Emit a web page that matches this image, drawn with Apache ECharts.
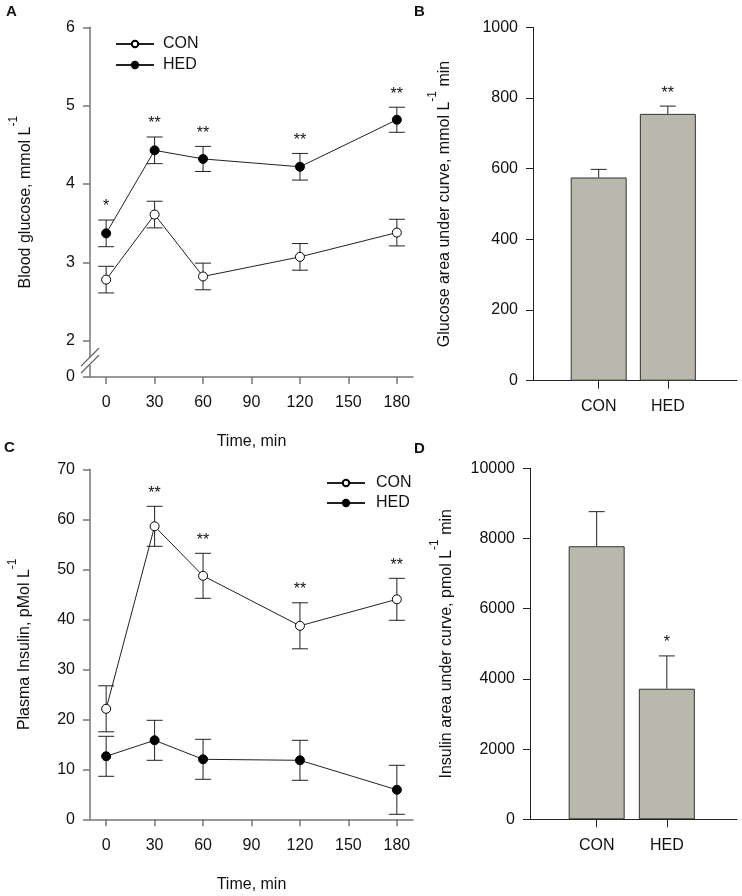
<!DOCTYPE html>
<html>
<head>
<meta charset="utf-8">
<script src="https://cdn.jsdelivr.net/npm/echarts@6/dist/echarts.min.js"></script>
<style>
html, body { margin: 0; padding: 0; background: #fff; }
#main { width: 742px; height: 896px; }
</style>
</head>
<body>
<div id="main"></div>
<script>
// time points and ticks
const times = [0, 30, 60, 120, 180]
const timeTicks = [0, 30, 60, 90, 120, 150, 180]
const groups = ['CON', 'HED']

// A - blood glucose
const glucoseCon = [2.78, 3.61, 2.82, 3.07, 3.38]
const glucoseConSe = [0.17, 0.17, 0.17, 0.17, 0.17]
const glucoseHed = [3.37, 4.43, 4.32, 4.22, 4.82]
const glucoseHedSe = [0.17, 0.17, 0.16, 0.17, 0.16]
const glucoseStars = ['*', '**', '**', '**', '**']
const glucoseTicks = [2, 3, 4, 5, 6]

// B - glucose AUC
const glucoseAuc = [575, 755]
const glucoseAucSe = [23, 22]
const glucoseAucStars = ['', '**']

// C - plasma insulin
const insulinCon = [22.1, 58.6, 48.7, 38.7, 44.0]
const insulinConSe = [4.6, 4.0, 4.5, 4.6, 4.2]
const insulinHed = [12.6, 15.8, 12.0, 11.8, 5.9]
const insulinHedSe = [4.0, 4.0, 4.0, 4.0, 4.9]
const insulinStars = ['', '**', '**', '**', '**']

// D - insulin AUC
const insulinAuc = [7780, 3720]
const insulinAucSe = [985, 935]
const insulinAucStars = ['', '*']

const FONT = '"Liberation Sans", Arial, sans-serif'
const TXT = '#111'
const BREAK_LOW = 1.537 // position drawn as "0" below the axis break
const BREAK_MID = 1.74 // where the // marks sit

const chart = echarts.init(document.getElementById('main'))

function txt(size) {
  return { fontSize: size, fontFamily: FONT, color: TXT }
}

function timeAxis(gridIndex) {
  return {
    type: 'value', gridIndex, min: -10, max: 190,
    name: 'Time, min', nameLocation: 'middle', nameGap: 57,
    nameTextStyle: txt(16),
    axisLine: { show: true, onZero: false, lineStyle: { color: '#777', width: 1.5 } },
    axisTick: { show: true, length: 7, customValues: timeTicks, lineStyle: { color: '#777', width: 1.5 } },
    axisLabel: { customValues: timeTicks, margin: 18, ...txt(16) },
    splitLine: { show: false }
  }
}

function groupAxis(gridIndex) {
  return {
    type: 'value', gridIndex, min: -0.95, max: 2,
    axisLine: { show: true, onZero: false, lineStyle: { color: '#222', width: 1 } },
    axisTick: { show: true, length: 8, customValues: [0, 1], lineStyle: { color: '#222' } },
    axisLabel: { customValues: [0, 1], margin: 18, formatter: v => groups[Math.round(v)], ...txt(16) },
    splitLine: { show: false }
  }
}

function supName(main, tail) {
  return '{m|' + main + '}{s|-1}' + (tail ? '{m|' + tail + '}' : '')
}
const supRich = {
  m: { ...txt(16), lineHeight: 36 },
  s: { ...txt(12), lineHeight: 12, verticalAlign: 'top' }
}

function valueAxis(gridIndex, opt, color) {
  const w = color === '#777' ? 1.5 : 1
  return Object.assign({
    type: 'value', gridIndex, nameLocation: 'middle',
    nameTextStyle: { rich: supRich },
    axisLine: { show: true, onZero: false, lineStyle: { color: color, width: w } },
    axisTick: { show: true, length: 7, lineStyle: { color: color, width: w } },
    axisLabel: { margin: 15, formatter: v => String(v), ...txt(16) },
    splitLine: { show: false }
  }, opt)
}

// error bars (with optional significance stars above the top cap)
function errorBars(xi, xs, ys, se, stars, twoSided) {
  return {
    type: 'custom', xAxisIndex: xi, yAxisIndex: xi, z: 1, silent: true,
    data: xs.map((x, i) => [x, ys[i], se[i]]),
    renderItem: (params, api) => {
      const x = api.value(0), y = api.value(1), e = api.value(2)
      const top = api.coord([x, y + e])
      const bot = api.coord([x, twoSided ? y - e : y])
      const st = { stroke: '#222', lineWidth: 1 }
      const hw = 8
      const children = [
        { type: 'line', shape: { x1: top[0], y1: top[1], x2: bot[0], y2: bot[1] }, style: st },
        { type: 'line', shape: { x1: top[0] - hw, y1: top[1], x2: top[0] + hw, y2: top[1] }, style: st }
      ]
      if (twoSided) {
        children.push({ type: 'line', shape: { x1: bot[0] - hw, y1: bot[1], x2: bot[0] + hw, y2: bot[1] }, style: st })
      }
      const star = stars[params.dataIndex]
      if (star) {
        children.push({
          type: 'text', x: top[0], y: top[1] - 13,
          style: { text: star, textAlign: 'center', textVerticalAlign: 'middle', font: '16px ' + FONT, fill: TXT }
        })
      }
      return { type: 'group', children }
    }
  }
}

function lineSeries(name, xi, ys, open) {
  return {
    name, type: 'line', xAxisIndex: xi, yAxisIndex: xi, z: 3,
    data: times.map((t, i) => [t, ys[i]]),
    symbol: 'circle', symbolSize: 9,
    itemStyle: { color: open ? '#fff' : '#000', borderColor: '#000', borderWidth: 1 },
    lineStyle: { color: '#222', width: 1 },
    emphasis: { disabled: true }
  }
}

function barSeries(xi, vals) {
  return {
    type: 'bar', xAxisIndex: xi, yAxisIndex: xi, barWidth: 56, z: 2,
    data: vals.map((v, i) => [i, v]),
    itemStyle: { color: '#b8b8ac', borderColor: '#333', borderWidth: 1 },
    emphasis: { disabled: true }
  }
}

// the // break on panel A's y axis
const axisBreak = {
  type: 'custom', xAxisIndex: 0, yAxisIndex: 0, z: 10, silent: true, clip: false,
  data: [[-10, BREAK_MID]],
  renderItem: (params, api) => {
    const p = api.coord([api.value(0), api.value(1)])
    const slash = { stroke: '#555', lineWidth: 1.2 }
    return {
      type: 'group', x: p[0], y: p[1],
      children: [
        { type: 'rect', shape: { x: -3, y: -4, width: 6, height: 8 }, style: { fill: '#fff' } },
        { type: 'line', shape: { x1: -9, y1: 5, x2: 9, y2: -13 }, style: slash },
        { type: 'line', shape: { x1: -9, y1: 12, x2: 9, y2: -6 }, style: slash }
      ]
    }
  }
}

const option = {
  animation: false,
  backgroundColor: '#fff',
  grid: [
    { left: 90, top: 27.3, width: 323, height: 349.7, outerBoundsMode: 'none' },
    { left: 533, top: 27.3, width: 204, height: 353.4, outerBoundsMode: 'none' },
    { left: 90, top: 469.3, width: 323, height: 350, outerBoundsMode: 'none' },
    { left: 530, top: 468.3, width: 207, height: 351, outerBoundsMode: 'none' }
  ],
  xAxis: [timeAxis(0), groupAxis(1), timeAxis(2), groupAxis(3)],
  yAxis: [
    valueAxis(0, {
      min: BREAK_LOW, max: 6,
      name: supName('Blood glucose, mmol L'), nameGap: 46,
      axisTick: { show: true, length: 7, customValues: [BREAK_LOW].concat(glucoseTicks), lineStyle: { color: '#777', width: 1.5 } },
      axisLabel: { margin: 15, customValues: [BREAK_LOW].concat(glucoseTicks), formatter: v => (v < 1.9 ? '0' : String(v)), ...txt(16) }
    }, '#777'),
    valueAxis(1, { min: 0, max: 1000, interval: 200, name: supName('Glucose area under curve, mmol L', ' min'), nameGap: 70 }, '#222'),
    valueAxis(2, { min: 0, max: 70, interval: 10, name: supName('Plasma Insulin, pMol L'), nameGap: 47 }, '#777'),
    valueAxis(3, { min: 0, max: 10000, interval: 2000, name: supName('Insulin area under curve, pmol L', ' min'), nameGap: 65 }, '#222')
  ],
  legend: [
    {
      left: 110, top: 31, orient: 'vertical', itemWidth: 38, itemHeight: 8, itemGap: 5,
      data: ['CON', 'HED'], selectedMode: false,
      textStyle: { ...txt(16), padding: [0, 0, 0, 4] }
    },
    {
      left: 321, top: 470, orient: 'vertical', itemWidth: 38, itemHeight: 8, itemGap: 4,
      data: ['CON', 'HED'], selectedMode: false,
      textStyle: { ...txt(16), padding: [0, 0, 0, 6] }
    }
  ],
  graphic: [
    { type: 'text', left: 6, top: 4, style: { text: 'A', font: 'bold 15px ' + FONT, fill: TXT } },
    { type: 'text', left: 414, top: 4, style: { text: 'B', font: 'bold 15px ' + FONT, fill: TXT } },
    { type: 'text', left: 4, top: 440, style: { text: 'C', font: 'bold 15px ' + FONT, fill: TXT } },
    { type: 'text', left: 414, top: 441, style: { text: 'D', font: 'bold 15px ' + FONT, fill: TXT } }
  ],
  series: [
    errorBars(0, times, glucoseCon, glucoseConSe, [], true),
    errorBars(0, times, glucoseHed, glucoseHedSe, glucoseStars, true),
    lineSeries('CON', 0, glucoseCon, true),
    lineSeries('HED', 0, glucoseHed, false),
    axisBreak,
    barSeries(1, glucoseAuc),
    errorBars(1, [0, 1], glucoseAuc, glucoseAucSe, glucoseAucStars, false),
    errorBars(2, times, insulinCon, insulinConSe, insulinStars, true),
    errorBars(2, times, insulinHed, insulinHedSe, [], true),
    lineSeries('CON', 2, insulinCon, true),
    lineSeries('HED', 2, insulinHed, false),
    barSeries(3, insulinAuc),
    errorBars(3, [0, 1], insulinAuc, insulinAucSe, insulinAucStars, false)
  ]
}
chart.setOption(option)
</script>
</body>
</html>
